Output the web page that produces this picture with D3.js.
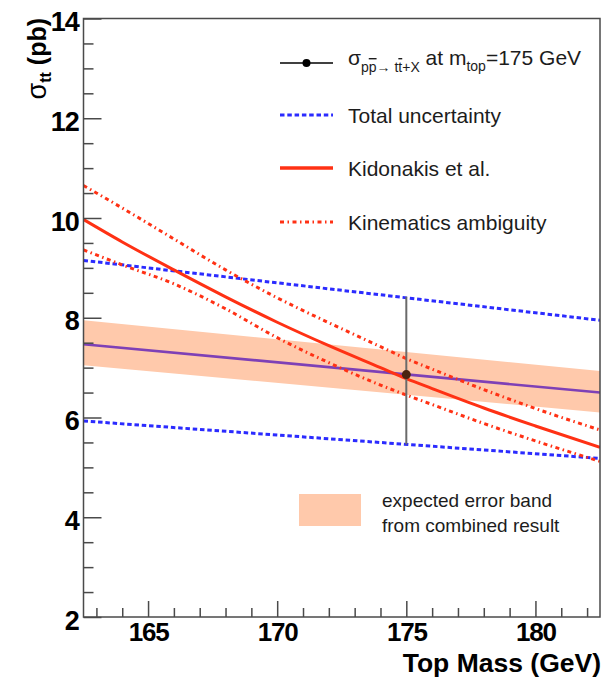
<!DOCTYPE html>
<html>
<head>
<meta charset="utf-8">
<script src="https://cdn.jsdelivr.net/npm/d3@7"></script>
<style>
  html, body { margin: 0; padding: 0; background: #ffffff; }
  svg { display: block; }
  text { font-family: "Liberation Sans", Arial, Helvetica, sans-serif; }
</style>
</head>
<body>
<script>
// ---------------- data ----------------
const massGrid      = [162.5, 164, 166, 168, 170, 172, 174, 175, 176, 178, 180, 182.5];
const kidonakis     = [9.97, 9.52, 8.96, 8.42, 7.91, 7.44, 7.00, 6.78, 6.58, 6.19, 5.83, 5.40];
const kinUpper      = [10.65, 10.20, 9.58, 8.96, 8.40, 7.90, 7.42, 7.18, 6.97, 6.56, 6.18, 5.75];
const kinLower      = [9.36, 9.06, 8.68, 8.18, 7.60, 7.10, 6.65, 6.45, 6.26, 5.88, 5.53, 5.12];

const lineMass      = [162.5, 182.5];
const totalUpper    = [9.15, 7.95];
const totalLower    = [5.93, 5.18];
const combCentral   = [7.47, 6.50];
const bandUpper     = [7.95, 6.93];
const bandLower     = [7.05, 6.10];

const measMass      = [175];
const measValue     = [6.86];
const measHigh      = [8.42];
const measLow       = [5.46];

const xDomain       = [162.5, 182.5];
const yDomain       = [2, 14];
const xMajorTicks   = [165, 170, 175, 180];
const xMinorTicks   = [163, 164, 166, 167, 168, 169, 171, 172, 173, 174, 176, 177, 178, 179, 181, 182];
const yMajorTicks   = [2, 4, 6, 8, 10, 12, 14];
const yMinorTicks   = [2.5, 3, 3.5, 4.5, 5, 5.5, 6.5, 7, 7.5, 8.5, 9, 9.5, 10.5, 11, 11.5, 12.5, 13, 13.5];

const legendLabels  = ["Total uncertainty", "Kidonakis et al.", "Kinematics ambiguity"];
const bandLabel     = ["expected error band", "from combined result"];
const xTitle        = "Top Mass (GeV)";

// ---------------- layout ----------------
const W = 611, H = 678;
const L = 83.5, R = 600, T = 18.5, B = 617;

const COL = {
  axis: "#4a4a4a",
  blue: "#2b2bff",
  red: "#ff3114",
  purple: "#7e40b6",
  band: "#ffc9ab",
  err: "#6a6a6a",
  dot: "#4a2410",
  text: "#1c1c1c"
};

const svg = d3.select("body").append("svg").attr("width", W).attr("height", H);

const x = d3.scaleLinear().domain(xDomain).range([L, R]);
const y = d3.scaleLinear().domain(yDomain).range([B, T]);

svg.append("defs").append("clipPath").attr("id", "plotclip")
  .append("rect").attr("x", L).attr("y", T).attr("width", R - L).attr("height", B - T);

const plot = svg.append("g").attr("clip-path", "url(#plotclip)");

// band
const bandData = lineMass.map((m, i) => ({m, lo: bandLower[i], hi: bandUpper[i]}));
plot.append("path").datum(bandData)
  .attr("d", d3.area().x(d => x(d.m)).y0(d => y(d.lo)).y1(d => y(d.hi)))
  .attr("fill", COL.band);

const straight = d3.line().x(d => x(d[0])).y(d => y(d[1]));
const smooth = d3.line().x(d => x(d[0])).y(d => y(d[1])).curve(d3.curveMonotoneX);

// total uncertainty (blue dashed)
[totalUpper, totalLower].forEach(arr => {
  plot.append("path").datum(lineMass.map((m, i) => [m, arr[i]]))
    .attr("d", straight).attr("fill", "none")
    .attr("stroke", COL.blue).attr("stroke-width", 3)
    .attr("stroke-dasharray", "4.5,2.8");
});

// combined central (purple)
plot.append("path").datum(lineMass.map((m, i) => [m, combCentral[i]]))
  .attr("d", straight).attr("fill", "none")
  .attr("stroke", COL.purple).attr("stroke-width", 2.6);

// kinematics ambiguity (red dash-dot)
[kinUpper, kinLower].forEach(arr => {
  plot.append("path").datum(massGrid.map((m, i) => [m, arr[i]]))
    .attr("d", smooth).attr("fill", "none")
    .attr("stroke", COL.red).attr("stroke-width", 3)
    .attr("stroke-dasharray", "4,3.5,1.5,3.5");
});

// Kidonakis (red solid)
plot.append("path").datum(massGrid.map((m, i) => [m, kidonakis[i]]))
  .attr("d", smooth).attr("fill", "none")
  .attr("stroke", COL.red).attr("stroke-width", 3);

// measurement
measMass.forEach((m, i) => {
  plot.append("line")
    .attr("x1", x(m)).attr("x2", x(m))
    .attr("y1", y(measLow[i])).attr("y2", y(measHigh[i]))
    .attr("stroke", COL.err).attr("stroke-width", 2);
  plot.append("circle").attr("cx", x(m)).attr("cy", y(measValue[i])).attr("r", 4.5)
    .attr("fill", COL.dot);
});

// ---------------- axes ----------------
const axisG = svg.append("g");

function styleAxis(g) {
  g.selectAll("line").attr("stroke", COL.axis).attr("stroke-width", 1.5);
  g.selectAll("path.domain").remove();
  g.selectAll("text")
    .attr("font-size", 27).attr("font-weight", "bold")
    .attr("fill", "#000").attr("letter-spacing", "-1.2px")
    .style("font-family", "'Liberation Sans', Arial, Helvetica, sans-serif");
}

// y axis
const yMaj = axisG.append("g").attr("transform", `translate(${L},0)`)
  .call(d3.axisLeft(y).tickValues(yMajorTicks).tickSize(-18).tickPadding(5).tickFormat(d3.format("d")));
styleAxis(yMaj);
yMaj.selectAll("text").attr("dy", "0.45em");
const yMin = axisG.append("g").attr("transform", `translate(${L},0)`)
  .call(d3.axisLeft(y).tickValues(yMinorTicks).tickSize(-10).tickFormat(""));
styleAxis(yMin);

// x axis
const xMaj = axisG.append("g").attr("transform", `translate(0,${B})`)
  .call(d3.axisBottom(x).tickValues(xMajorTicks).tickSize(-16).tickPadding(6).tickFormat(d3.format("d")));
styleAxis(xMaj);
xMaj.selectAll("text").attr("dy", "0.71em").attr("font-size", 26);
const xMin = axisG.append("g").attr("transform", `translate(0,${B})`)
  .call(d3.axisBottom(x).tickValues(xMinorTicks).tickSize(-9).tickFormat(""));
styleAxis(xMin);

// frame
svg.append("rect").attr("x", L).attr("y", T).attr("width", R - L).attr("height", B - T)
  .attr("fill", "none").attr("stroke", COL.axis).attr("stroke-width", 1.5);

// axis titles
svg.append("text").attr("x", 601).attr("y", 672).attr("text-anchor", "end")
  .attr("font-size", 26.5).attr("font-weight", "bold").attr("fill", "#000")
  .text(xTitle);

const yt = svg.append("text")
  .attr("transform", "translate(46,18) rotate(-90)")
  .attr("text-anchor", "end").attr("fill", "#000");
yt.append("tspan").attr("font-size", 27).text("σ");
yt.append("tspan").attr("font-size", 16).attr("font-weight", "bold").attr("dy", 5).text("tt");
yt.append("tspan").attr("font-size", 25).attr("font-weight", "bold").attr("dy", -5).text(" (pb)");

// ---------------- legend ----------------
const lg = svg.append("g");
const lx1 = 280, lx2 = 333, tx = 348;
const rowY = [63, 115, 168, 222];

// entry 1: measurement
lg.append("line").attr("x1", lx1).attr("x2", lx2).attr("y1", rowY[0]).attr("y2", rowY[0])
  .attr("stroke", "#000").attr("stroke-width", 1.3);
lg.append("circle").attr("cx", (lx1 + lx2) / 2).attr("cy", rowY[0]).attr("r", 4).attr("fill", "#000");
const t1 = lg.append("text").attr("x", tx).attr("y", rowY[0] + 2).attr("fill", COL.text).attr("font-size", 21);
t1.append("tspan").text("σ");
t1.append("tspan").attr("font-size", 14).attr("dy", 7).text("p");
t1.append("tspan").attr("font-size", 14).attr("text-decoration", "overline").text("p");
t1.append("tspan").attr("font-size", 14).text("→ t");
t1.append("tspan").attr("font-size", 14).attr("text-decoration", "overline").text("t");
t1.append("tspan").attr("font-size", 14).text("+X");
t1.append("tspan").attr("dy", -7).text(" at m");
t1.append("tspan").attr("font-size", 14).attr("dy", 6).text("top");
t1.append("tspan").attr("dy", -6).text("=175 GeV");

// entry 2: total uncertainty
lg.append("line").attr("x1", lx1).attr("x2", lx2).attr("y1", rowY[1]).attr("y2", rowY[1])
  .attr("stroke", COL.blue).attr("stroke-width", 3).attr("stroke-dasharray", "4.5,2.8");
// entry 3: Kidonakis
lg.append("line").attr("x1", lx1).attr("x2", lx2).attr("y1", rowY[2]).attr("y2", rowY[2])
  .attr("stroke", COL.red).attr("stroke-width", 3.5);
// entry 4: kinematics
lg.append("line").attr("x1", lx1).attr("x2", lx2).attr("y1", rowY[3]).attr("y2", rowY[3])
  .attr("stroke", COL.red).attr("stroke-width", 3).attr("stroke-dasharray", "4,3.5,1.5,3.5");

legendLabels.forEach((lab, i) => {
  lg.append("text").attr("x", tx).attr("y", rowY[i + 1] + 8)
    .attr("font-size", 21).attr("fill", COL.text).text(lab);
});

// band legend
lg.append("rect").attr("x", 299).attr("y", 494).attr("width", 62).attr("height", 32).attr("fill", COL.band);
bandLabel.forEach((lab, i) => {
  lg.append("text").attr("x", 382).attr("y", 507 + i * 25)
    .attr("font-size", 19).attr("fill", COL.text).text(lab);
});
</script>
</body>
</html>
